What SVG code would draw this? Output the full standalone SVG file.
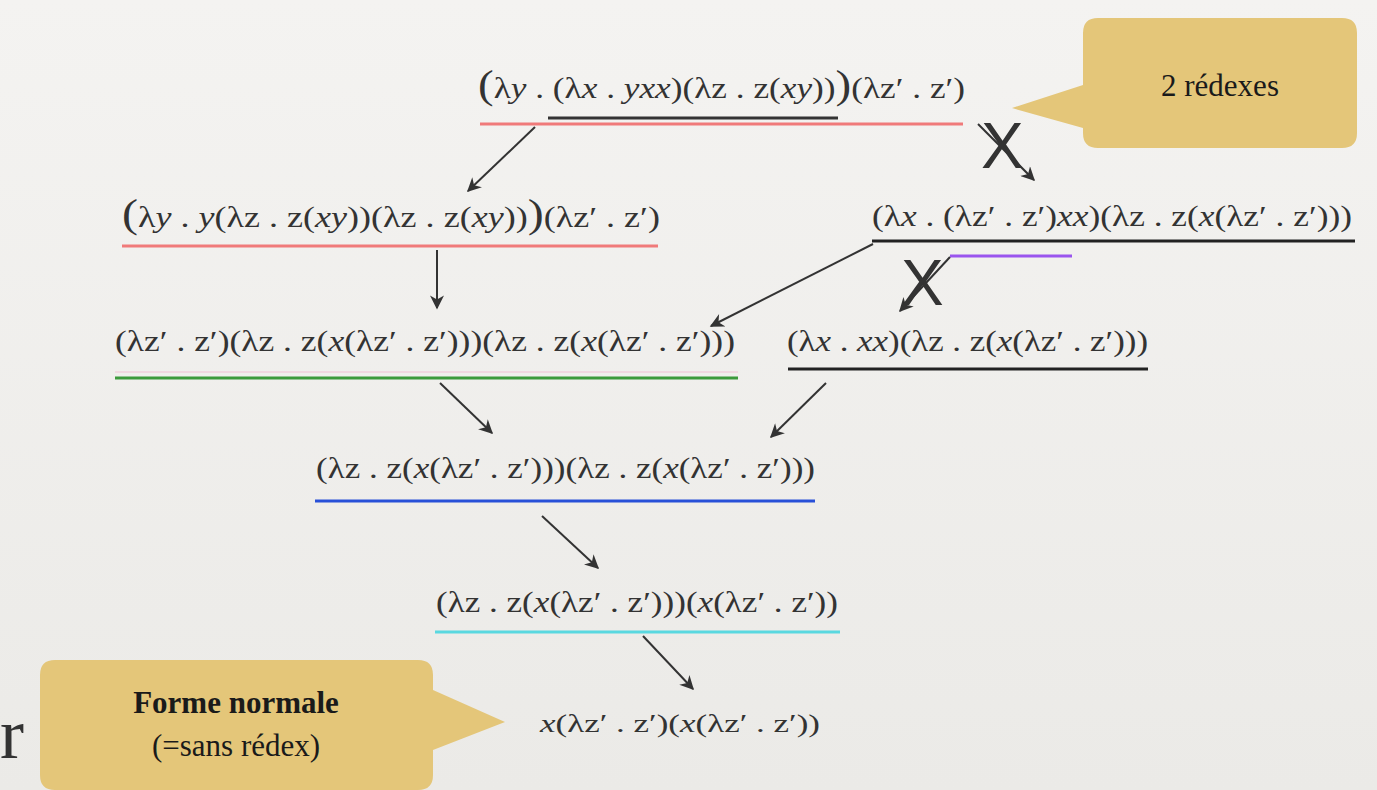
<svg xmlns="http://www.w3.org/2000/svg" width="1377" height="790" viewBox="0 0 1377 790">
<defs>
<linearGradient id="bg" x1="0" y1="0" x2="0" y2="1">
<stop offset="0" stop-color="#f4f3f1"/>
<stop offset="1" stop-color="#ebeae7"/>
</linearGradient>
<marker id="ah2" viewBox="0 0 10 10" refX="9" refY="5" markerWidth="16" markerHeight="14" markerUnits="userSpaceOnUse" orient="auto">
<path d="M0,0 L10,5 L0,10 L3,5 z" fill="#333"/>
</marker>
</defs>
<style>
.e{font-family:"Liberation Serif","DejaVu Serif",serif;font-size:30px;fill:#333}
.s{font-size:25px}
.i{font-style:italic}
.big{font-size:40px}
.xm{font-family:"Liberation Sans",Arial,sans-serif;font-size:64px;fill:#333}
.arr{stroke:#333;stroke-width:2;fill:none;marker-end:url(#ah2)}
.call{fill:#e4c679}
.ct{font-family:"Liberation Serif","DejaVu Serif",serif;font-size:31px;fill:#1a1a1a;text-anchor:middle}
</style>
<rect width="1377" height="790" fill="url(#bg)"/>
<text x="0" y="758" font-family="Liberation Serif,serif" font-size="72" fill="#333">r</text>

<g id="callout-redexes">
<path class="call" d="M1098,18 H1342 Q1357,18 1357,33 V133 Q1357,148 1342,148 H1098 Q1083,148 1083,133 V128 L1012,108 L1083,85 V33 Q1083,18 1098,18 z"/>
<text class="ct" x="1220" y="96">2 rédexes</text>
</g>

<g id="callout-normale">
<path class="call" d="M55,660 H418 Q433,660 433,675 V690 L505,722 L433,750 V775 Q433,790 418,790 H55 Q40,790 40,775 V675 Q40,660 55,660 z"/>
<text class="ct" x="236" y="713" font-weight="bold">Forme normale</text>
<text class="ct" x="236" y="756">(=sans rédex)</text>
</g>

<g id="t1">
<text class="e" x="478" y="98" textLength="487" lengthAdjust="spacingAndGlyphs"><tspan class="big">(</tspan>λ<tspan class="i">y</tspan> . (λ<tspan class="i">x</tspan> . <tspan class="i">yxx</tspan>)(λz . z(<tspan class="i">xy</tspan>))<tspan class="big">)</tspan>(λz′ . z′)</text>
<line x1="480" y1="124" x2="963" y2="124" stroke="#f07a7a" stroke-width="3"/>
<line x1="548" y1="118" x2="838" y2="118" stroke="#333" stroke-width="3"/>
</g>

<g id="t2l">
<text class="e" x="122" y="227" textLength="538" lengthAdjust="spacingAndGlyphs"><tspan class="big">(</tspan>λ<tspan class="i">y</tspan> . <tspan class="i">y</tspan>(λz . z(<tspan class="i">xy</tspan>))(λz . z(<tspan class="i">xy</tspan>))<tspan class="big">)</tspan>(λz′ . z′)</text>
<line x1="122" y1="246" x2="658" y2="246" stroke="#f07a7a" stroke-width="3"/>
</g>

<g id="t2r">
<text class="e" x="872" y="226" textLength="480" lengthAdjust="spacingAndGlyphs">(λ<tspan class="i">x</tspan> . (λz′ . z′)<tspan class="i">xx</tspan>)(λz . z(<tspan class="i">x</tspan>(λz′ . z′)))</text>
<line x1="872" y1="241" x2="1355" y2="241" stroke="#222" stroke-width="3"/>
<line x1="950" y1="256" x2="1072" y2="256" stroke="#9a55ee" stroke-width="3"/>
</g>

<g id="t3l">
<text class="e" x="115" y="351" textLength="620" lengthAdjust="spacingAndGlyphs">(λz′ . z′)(λz . z(<tspan class="i">x</tspan>(λz′ . z′)))(λz . z(<tspan class="i">x</tspan>(λz′ . z′)))</text>
<line x1="115" y1="372" x2="738" y2="372" stroke="#f0d8e0" stroke-width="2"/>
<line x1="115" y1="378" x2="738" y2="378" stroke="#3c9a3c" stroke-width="3"/>
</g>

<g id="t3r">
<text class="e" x="787" y="351" textLength="361" lengthAdjust="spacingAndGlyphs">(λ<tspan class="i">x</tspan> . <tspan class="i">xx</tspan>)(λz . z(<tspan class="i">x</tspan>(λz′ . z′)))</text>
<line x1="788" y1="369" x2="1148" y2="369" stroke="#222" stroke-width="3"/>
</g>

<g id="t4">
<text class="e" x="316" y="478" textLength="499" lengthAdjust="spacingAndGlyphs">(λz . z(<tspan class="i">x</tspan>(λz′ . z′)))(λz . z(<tspan class="i">x</tspan>(λz′ . z′)))</text>
<line x1="315" y1="501" x2="815" y2="501" stroke="#2850d8" stroke-width="3"/>
</g>

<g id="t5">
<text class="e" x="436" y="612" textLength="402" lengthAdjust="spacingAndGlyphs">(λz . z(<tspan class="i">x</tspan>(λz′ . z′)))(<tspan class="i">x</tspan>(λz′ . z′))</text>
<line x1="435" y1="632" x2="840" y2="632" stroke="#5ad8e0" stroke-width="3"/>
</g>

<g id="t6">
<text class="e s" x="540" y="732" textLength="280" lengthAdjust="spacingAndGlyphs"><tspan class="i">x</tspan>(λz′ . z′)(<tspan class="i">x</tspan>(λz′ . z′))</text>
</g>

<g id="connectors">
<line class="arr" x1="535" y1="127" x2="468" y2="191"/>
<line class="arr" x1="978" y1="124" x2="1034" y2="180"/>
<line class="arr" x1="437" y1="250" x2="437" y2="308"/>
<line class="arr" x1="873" y1="244" x2="711" y2="326"/>
<line class="arr" x1="950" y1="257" x2="900" y2="311"/>
<line class="arr" x1="440" y1="383" x2="492" y2="433"/>
<line class="arr" x1="826" y1="383" x2="771" y2="437"/>
<line class="arr" x1="542" y1="516" x2="598" y2="568"/>
<line class="arr" x1="643" y1="636" x2="693" y2="689"/>
</g>

<g id="marks">
<text class="xm" x="981" y="168">X</text>
<text class="xm" x="901" y="305">X</text>
</g>
</svg>
